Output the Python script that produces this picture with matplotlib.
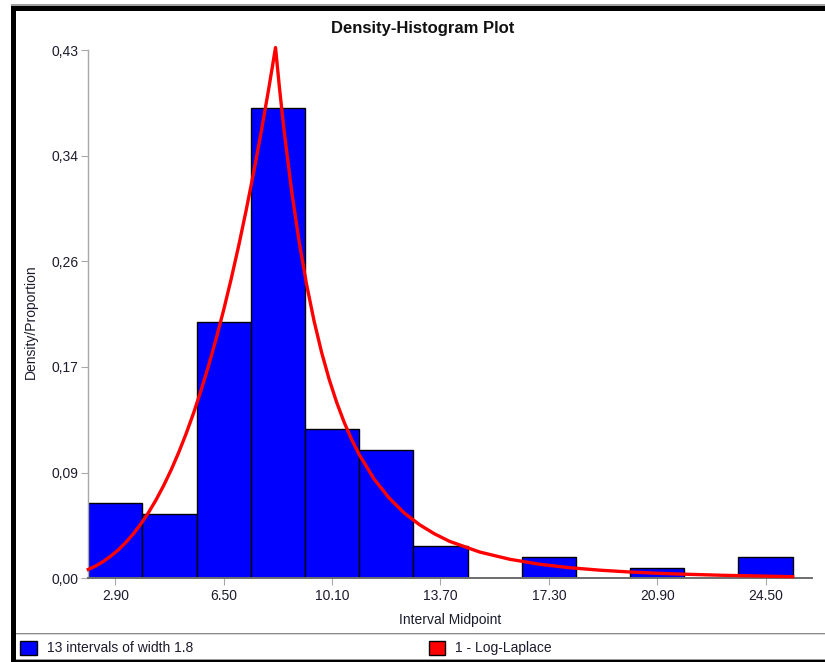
import matplotlib
matplotlib.use('Agg')
import matplotlib.pyplot as plt
from matplotlib.patches import Rectangle
from matplotlib.ticker import FuncFormatter

plt.rcParams['font.family'] = ['Liberation Sans', 'DejaVu Sans']

# ---- data ----
midpoints = [2.9, 4.7, 6.5, 8.3, 10.1, 11.9, 13.7, 15.5, 17.3, 19.1, 20.9, 22.7, 24.5]
proportions = [0.0609, 0.0522, 0.2087, 0.3826, 0.1217, 0.1043, 0.0261,
               0.0, 0.0174, 0.0, 0.0087, 0.0, 0.0174]
bin_width = 1.8

# fitted Log-Laplace curve
curve_x = [2.0, 2.25, 2.5, 2.75, 3.0, 3.25, 3.5, 3.75, 4.0, 4.25, 4.5, 4.75,
           5.0, 5.25, 5.5, 5.75, 6.0, 6.25, 6.5, 6.75, 7.0, 7.25, 7.5, 7.75,
           8.0, 8.22, 8.35, 8.5, 8.75, 9.0, 9.25, 9.5, 9.75, 10.0, 10.25, 10.5,
           10.75, 11.0, 11.5, 12.0, 12.5, 13.0, 13.5, 14.0, 15.0, 16.0, 17.0,
           18.0, 19.0, 20.0, 21.0, 22.0, 23.0, 24.0, 25.4]
curve_y = [0.0072, 0.0101, 0.0137, 0.0181, 0.0232, 0.0293, 0.0363, 0.0444,
           0.0535, 0.0638, 0.0753, 0.0881, 0.1022, 0.1177, 0.1347, 0.1533,
           0.1734, 0.1952, 0.2187, 0.2440, 0.2711, 0.3002, 0.3312, 0.3642,
           0.3993, 0.4320, 0.3994, 0.3654, 0.3161, 0.2746, 0.2394, 0.2095,
           0.1840, 0.1621, 0.1433, 0.1270, 0.1129, 0.1007, 0.0806, 0.0652,
           0.0531, 0.0437, 0.0362, 0.0301, 0.0214, 0.0155, 0.0114, 0.0086,
           0.0066, 0.0051, 0.0040, 0.0032, 0.0025, 0.0020, 0.0013]

x_ticks = [2.9, 6.5, 10.1, 13.7, 17.3, 20.9, 24.5]
y_ticks = [0.0, 0.086, 0.172, 0.258, 0.344, 0.43]

title = 'Density-Histogram Plot'
x_label = 'Interval Midpoint'
y_label = 'Density/Proportion'
hist_label = '13 intervals of width 1.8'
curve_label = '1 - Log-Laplace'

# ---- layout ----
W, H = 825, 662
fig = plt.figure(figsize=(W / 100, H / 100), dpi=100)
fig.patch.set_facecolor('white')

ax_l, ax_r, ax_t, ax_b = 88.3, 812.0, 50.0, 578.3
ax = fig.add_axes([ax_l / W, 1 - ax_b / H, (ax_r - ax_l) / W, (ax_b - ax_t) / H])

ax.bar(midpoints, proportions, width=bin_width, color='#0000FF',
       edgecolor='black', linewidth=1.0, zorder=2)
ax.plot(curve_x, curve_y, color='#FF0000', lw=2.4, zorder=3, clip_on=False,
        solid_joinstyle='round')

x0 = midpoints[0] - bin_width / 2
px_per_unit = 30.1
ax.set_xlim(x0, x0 + (ax_r - ax_l) / px_per_unit)
ax.set_ylim(0, 0.43)

ax.set_xticks(x_ticks)
ax.set_yticks(y_ticks)
ax.xaxis.set_major_formatter(FuncFormatter(lambda v, p: f'{v:.2f}'))
ax.yaxis.set_major_formatter(FuncFormatter(lambda v, p: f'{v:.2f}'.replace('.', ',')))

for s in ['top', 'right']:
    ax.spines[s].set_visible(False)
ax.spines['left'].set_color('#a8a8a8')
ax.spines['bottom'].set_color('#6e6e6e')
ax.spines['left'].set_linewidth(1.0)
ax.spines['bottom'].set_linewidth(1.4)

txt_color = '#1c1c2c'
ax.tick_params(axis='y', length=5, color='#a8a8a8', pad=2, labelsize=10,
               labelcolor=txt_color)
ax.tick_params(axis='x', length=5, color='#a8a8a8', pad=3, labelsize=10,
               labelcolor=txt_color)

ax.set_xlabel(x_label, fontsize=10, color=txt_color, labelpad=7)
fig.text(31 / W, 1 - 322 / H, y_label, rotation=90, fontsize=10,
         color=txt_color, ha='center', va='center')
fig.text(423 / W, 1 - 28 / H, title, fontsize=12, fontweight='bold',
         color='#111111', ha='center', va='center')

# ---- frame / borders ----
def frect(x, y, w, h, color):
    fig.patches.append(Rectangle((x / W, 1 - (y + h) / H), w / W, h / H,
                                 transform=fig.transFigure, facecolor=color,
                                 edgecolor='none', zorder=10))

frect(11, 4, W - 11, 2, '#a0a0a0')
frect(11, 6, W - 11, 5, '#000000')
frect(11, 6, 5, H - 6, '#000000')
frect(16, 632.5, W - 16, 1.5, '#8c8c8c')
frect(16, 634, W - 16, 1, '#d8d8d8')
frect(16, 659, W - 16, 1.2, '#9a9a9a')
frect(16, 660.2, W - 16, 1.8, '#000000')

# ---- legend entries ----
fs = 10
hl = 17 / 13.9
fig.legend(handles=[Rectangle((0, 0), 1, 1, facecolor='#0000FF',
                              edgecolor='black', linewidth=1.0)],
           labels=[hist_label], loc='center left',
           bbox_to_anchor=(20 / W, 1 - 648 / H), frameon=False,
           borderpad=0, borderaxespad=0, handlelength=hl,
           handleheight=hl, handletextpad=0.7, fontsize=fs,
           labelcolor=txt_color)
fig.legend(handles=[Rectangle((0, 0), 1, 1, facecolor='#FF0000',
                              edgecolor='black', linewidth=1.0)],
           labels=[curve_label], loc='center left',
           bbox_to_anchor=(428.5 / W, 1 - 648 / H), frameon=False,
           borderpad=0, borderaxespad=0, handlelength=hl,
           handleheight=hl, handletextpad=0.7, fontsize=fs,
           labelcolor=txt_color)

fig.savefig('out.png', dpi=100)
